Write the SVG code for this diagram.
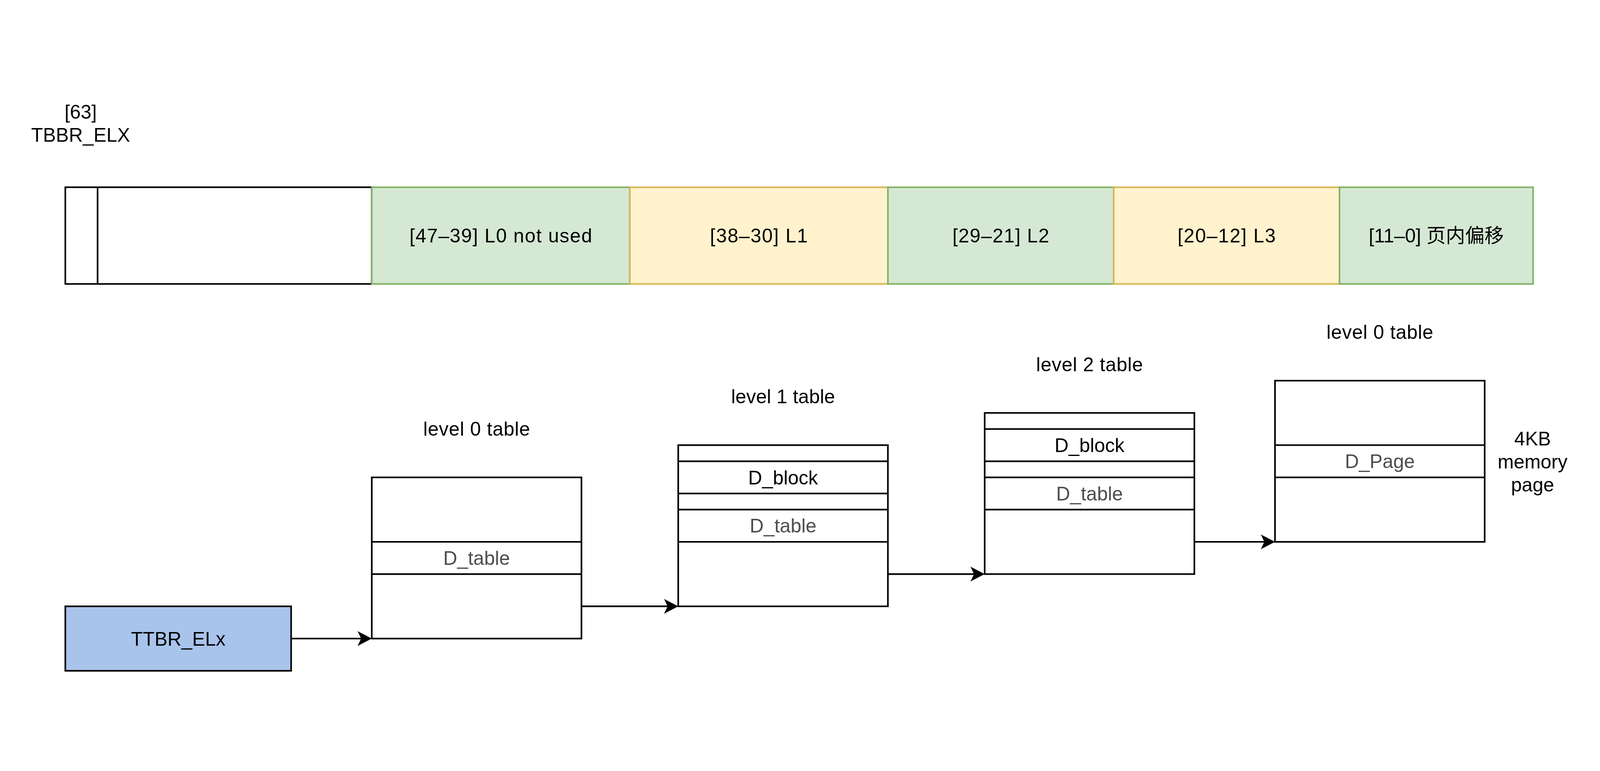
<svg xmlns="http://www.w3.org/2000/svg" width="4960" height="1975" viewBox="0 0 4960 1975">
<style>
svg:root{width:100vw;height:100vh;display:block}
text{font-family:"Liberation Sans","Noto Sans CJK SC",Arial,sans-serif;font-size:60px;text-anchor:middle;fill:#000}
.g{fill:#d5e8d4;stroke:#82b366;stroke-width:5}
.y{fill:#fff2cc;stroke:#d6b656;stroke-width:5}
.b{fill:#fff;stroke:#000;stroke-width:5}
.ln{fill:none;stroke:#000;stroke-width:5}
.gray{fill:#4d4d4d}
</style>
<defs>
<marker id="arr" markerUnits="userSpaceOnUse" viewBox="0 0 44 46" refX="33" refY="23" markerWidth="44" markerHeight="46" orient="auto">
<path d="M44,23 L0,0 L11,23 L0,46 Z" fill="#000"/>
</marker>
</defs>
<rect width="4960" height="1975" fill="#fff"/>
<g id="reg-label">
<text x="250" y="160">[63]</text>
<text x="250" y="231">TBBR_ELX</text>
</g>
<g id="bar-high">
<rect class="b" x="202.5" y="372.5" width="950" height="300"/>
<line class="ln" x1="302.5" y1="372.5" x2="302.5" y2="672.5"/>
</g>
<g id="bar-l0"><rect class="g" x="1152.5" y="372.5" width="800" height="300"/><text x="1552.5" y="544" textLength="566">[47–39] L0 not used</text></g>
<g id="bar-l1"><rect class="y" x="1952.5" y="372.5" width="800" height="300"/><text x="2352.5" y="544" textLength="303">[38–30] L1</text></g>
<g id="bar-l2"><rect class="g" x="2752.5" y="372.5" width="700" height="300"/><text x="3102.5" y="544" textLength="300">[29–21] L2</text></g>
<g id="bar-l3"><rect class="y" x="3452.5" y="372.5" width="700" height="300"/><text x="3802.5" y="544" textLength="304">[20–12] L3</text></g>
<g id="bar-off"><rect class="g" x="4152.5" y="372.5" width="600" height="300"/><text x="4452.5" y="544">[11–0] 页内偏移</text></g>
<g id="ttbr">
<rect x="202.5" y="1672.5" width="700" height="200" fill="#a9c4eb" stroke="#000" stroke-width="5"/>
<text x="552.5" y="1794">TTBR_ELx</text>
</g>
<g id="table0">
<text x="1477.5" y="1143" textLength="331">level 0 table</text>
<rect class="b" x="1152.5" y="1272.5" width="650" height="500"/>
<line class="ln" x1="1152.5" y1="1472.5" x2="1802.5" y2="1472.5"/>
<line class="ln" x1="1152.5" y1="1572.5" x2="1802.5" y2="1572.5"/>
<text class="gray" x="1477.5" y="1544">D_table</text>
</g>
<g id="table1">
<text x="2427.5" y="1043" textLength="322">level 1 table</text>
<rect class="b" x="2102.5" y="1172.5" width="650" height="500"/>
<line class="ln" x1="2102.5" y1="1222.5" x2="2752.5" y2="1222.5"/>
<line class="ln" x1="2102.5" y1="1322.5" x2="2752.5" y2="1322.5"/>
<line class="ln" x1="2102.5" y1="1372.5" x2="2752.5" y2="1372.5"/>
<line class="ln" x1="2102.5" y1="1472.5" x2="2752.5" y2="1472.5"/>
<text x="2427.5" y="1294">D_block</text>
<text class="gray" x="2427.5" y="1444">D_table</text>
</g>
<g id="table2">
<text x="3377.5" y="943" textLength="331">level 2 table</text>
<rect class="b" x="3052.5" y="1072.5" width="650" height="500"/>
<line class="ln" x1="3052.5" y1="1122.5" x2="3702.5" y2="1122.5"/>
<line class="ln" x1="3052.5" y1="1222.5" x2="3702.5" y2="1222.5"/>
<line class="ln" x1="3052.5" y1="1272.5" x2="3702.5" y2="1272.5"/>
<line class="ln" x1="3052.5" y1="1372.5" x2="3702.5" y2="1372.5"/>
<text x="3377.5" y="1194">D_block</text>
<text class="gray" x="3377.5" y="1344">D_table</text>
</g>
<g id="table3">
<text x="4277.5" y="843" textLength="331">level 0 table</text>
<rect class="b" x="3952.5" y="972.5" width="650" height="500"/>
<line class="ln" x1="3952.5" y1="1172.5" x2="4602.5" y2="1172.5"/>
<line class="ln" x1="3952.5" y1="1272.5" x2="4602.5" y2="1272.5"/>
<text class="gray" x="4277.5" y="1244">D_Page</text>
</g>
<g id="page-label">
<text x="4751" y="1173">4KB</text>
<text x="4751" y="1245">memory</text>
<text x="4751" y="1316">page</text>
</g>
<g id="connectors">
<line class="ln" x1="902.5" y1="1772.5" x2="1141.5" y2="1772.5" marker-end="url(#arr)"/>
<line class="ln" x1="1802.5" y1="1672.5" x2="2091.5" y2="1672.5" marker-end="url(#arr)"/>
<line class="ln" x1="2752.5" y1="1572.5" x2="3041.5" y2="1572.5" marker-end="url(#arr)"/>
<line class="ln" x1="3702.5" y1="1472.5" x2="3941.5" y2="1472.5" marker-end="url(#arr)"/>
</g>
</svg>
